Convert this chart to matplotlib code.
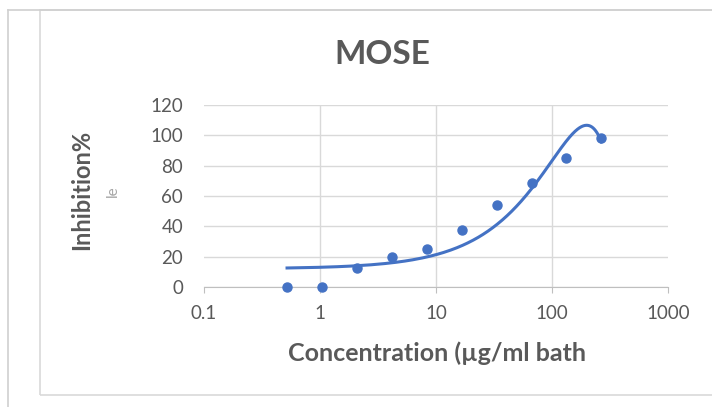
import numpy as np
import matplotlib
matplotlib.use("Agg")
import matplotlib.pyplot as plt
from matplotlib.patches import Rectangle
from matplotlib.lines import Line2D

# data
conc = [0.52, 1.04, 2.08, 4.17, 8.33, 16.7, 33.3, 66.7, 133.3, 266.7]
inhib = [0, 0, 12.5, 20, 25, 37.5, 54, 68.5, 85, 98]
xticks = [0.1, 1, 10, 100, 1000]
xticklabels = ["0.1", "1", "10", "100", "1000"]
yticks = [0, 20, 40, 60, 80, 100, 120]

blue = "#4472C4"
grey = "#595959"
plt.rcParams["font.family"] = ["Lato", "DejaVu Sans"]

fig = plt.figure(figsize=(7.12, 4.07), dpi=100)

# frame lines of the screenshot
fig.add_artist(Line2D([8/712, 8/712], [0, 1 - 10/407], color="#d0d0d0", lw=1.2))
fig.add_artist(Line2D([8/712, 1], [1 - 10/407, 1 - 10/407], color="#d0d0d0", lw=1.2))
fig.add_artist(Rectangle((40/712, 1 - 395/407), 1, 385/407, fill=False,
                         edgecolor="#d9d9d9", lw=1.2))

ax = fig.add_axes([204/712, 1 - 287/407, 464/712, 182/407])
ax.set_xscale("log")
ax.set_xlim(0.1, 1000)
ax.set_ylim(0, 120)

# polynomial trendline (Excel style, in linear x)
coef = np.polyfit(conc, inhib, 2)
xs = np.linspace(conc[0], conc[-1], 600)
ax.plot(xs, np.polyval(coef, xs), color=blue, lw=2.2, zorder=3)
ax.plot(conc, inhib, "o", color=blue, ms=6.5, zorder=4, clip_on=False)

ax.set_xticks(xticks)
ax.set_xticklabels(xticklabels)
ax.minorticks_off()
ax.set_yticks(yticks)
ax.tick_params(axis="both", colors=grey, labelsize=13.5, length=0)
ax.tick_params(axis="x", length=4, color="#bfbfbf", direction="out", pad=9)
ax.tick_params(axis="y", pad=15)
ax.grid(True, color="#d9d9d9", lw=1)
for side in ["top", "right", "left"]:
    ax.spines[side].set_visible(False)
ax.spines["bottom"].set_color("#bfbfbf")
ax.set_axisbelow(True)
gl = ax.get_xgridlines()
gl[0].set_visible(False)
gl[-1].set_visible(False)

fig.text(382/712, 1 - 54/407, "MOSE", ha="center", va="center",
         fontsize=24, fontweight="bold", color=grey)
fig.text(82/712, 1 - 190/407, "Inhibition%", ha="center", va="center",
         rotation=90, fontsize=17, fontweight="bold", color=grey)
fig.text(113/712, 1 - 191/407, "le", ha="center", va="center",
         rotation=90, fontsize=11, color="#a6a6a6")
fig.text(437/712, 1 - 353/407, "Concentration (\u00b5g/ml bath", ha="center",
         va="center", fontsize=18, fontweight="bold", color=grey)

fig.savefig("out.png", dpi=100)
